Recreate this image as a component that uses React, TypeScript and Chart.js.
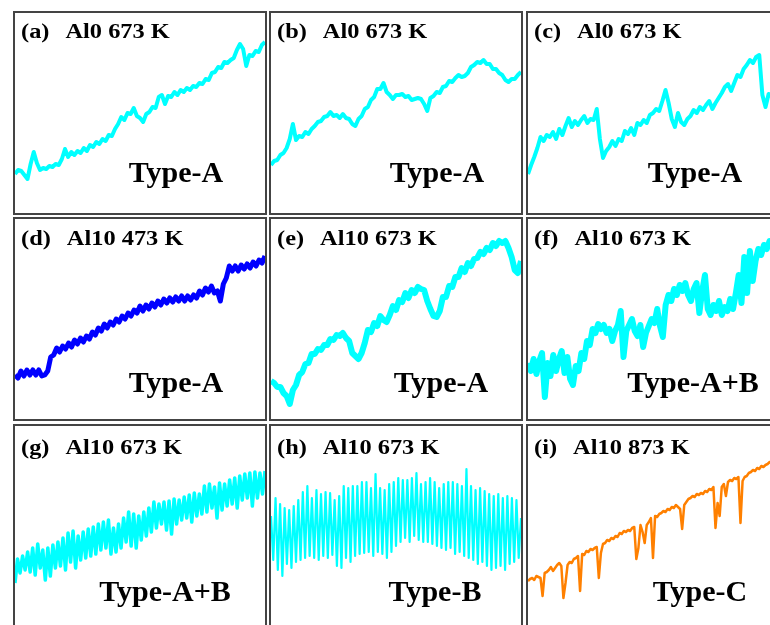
import React, { useEffect, useRef } from "react";
import { Chart, registerables } from "chart.js";

Chart.register(...registerables);

// ---------- text ----------
const panelTags = ["(a)", "(b)", "(c)", "(d)", "(e)", "(f)", "(g)", "(h)", "(i)"];
const panelTitles = [
  "Al0 673 K", "Al0 673 K", "Al0 673 K",
  "Al10 473 K", "Al10 673 K", "Al10 673 K",
  "Al10 673 K", "Al10 673 K", "Al10 873 K",
];
const panelTypes = [
  "Type-A", "Type-A", "Type-A",
  "Type-A", "Type-A", "Type-A+B",
  "Type-A+B", "Type-B", "Type-C",
];

// ---------- series (height above panel bottom, evenly spaced along x) ----------
const seriesA = [41,45,44,40,36,51,63,52,45,47,46,49,48,51,50,56,66,58,63,60,64,62,67,64,70,68,73,71,76,74,80,79,86,91,98,95,102,101,107,99,97,93,101,103,108,107,118,120,111,119,118,123,120,125,123,127,125,129,128,132,131,136,135,142,143,148,147,153,152,155,157,165,171,166,149,160,159,164,163,170,173];
const seriesB = [50,54,55,60,62,67,76,91,75,79,78,83,81,86,89,93,94,98,99,103,99,100,97,101,97,96,91,89,96,99,106,108,115,118,126,126,132,123,120,116,120,120,121,118,119,115,116,117,116,111,104,117,119,123,122,128,129,134,133,137,140,138,139,142,148,150,153,152,155,151,151,146,146,142,140,135,133,136,136,140,143];
const seriesC = [41,50,58,67,78,74,80,78,83,76,86,80,89,97,88,94,90,95,99,92,96,95,106,76,57,64,68,74,69,76,74,84,81,87,80,92,90,95,92,100,102,106,104,114,125,112,96,88,102,93,90,96,99,105,102,108,105,110,114,106,112,117,122,128,131,124,132,140,138,146,150,155,152,158,160,120,108,121,119,124,127];
const seriesD = [46,43,50,45,51,46,51,46,51,45,46,50,64,66,73,69,75,72,78,74,81,77,83,79,85,82,89,86,93,90,97,93,99,96,102,99,105,102,108,105,111,108,115,110,116,112,118,114,120,116,122,118,123,119,124,120,125,120,125,121,126,123,130,126,133,129,135,128,130,120,137,143,155,150,155,150,156,152,157,153,159,155,161,158,165];
const seriesE = [40,38,34,34,28,25,17,31,36,46,49,57,58,67,67,72,71,76,76,82,81,86,85,88,83,80,68,65,62,68,78,91,89,98,95,105,101,99,106,115,111,121,119,128,123,131,128,134,132,131,120,112,105,104,110,124,124,135,134,144,144,153,149,158,155,162,163,169,167,173,171,178,175,180,178,180,173,164,151,148,160];
const seriesF = [58,50,62,47,60,68,24,58,45,66,50,62,70,48,64,42,36,55,50,68,62,80,76,92,88,97,92,96,88,92,80,90,96,110,64,90,96,102,90,85,96,74,88,95,102,98,112,95,84,116,126,120,132,126,136,130,138,126,120,132,138,108,130,146,112,106,116,110,120,106,114,110,122,112,128,146,118,164,128,170,140,160,172,166,176,172,180,178,182,180];
const seriesG = [45,69,55,72,58,76,56,80,53,84,60,78,48,80,52,83,60,86,62,90,58,95,66,97,60,92,68,96,70,99,72,101,74,104,78,106,80,108,74,100,76,104,80,110,86,116,82,114,80,112,88,116,92,120,96,126,100,124,104,126,98,127,94,129,104,128,108,131,110,133,106,135,112,134,114,142,116,144,120,141,110,145,118,144,122,148,124,150,120,152,128,154,130,155,122,156,130,155,134,157];
const seriesH = [112,68,130,58,124,52,120,64,118,60,122,66,128,68,136,70,142,72,130,70,138,68,134,72,136,70,135,73,128,62,132,60,142,70,140,66,142,72,142,74,146,75,146,76,140,72,154,76,140,74,138,70,144,76,146,82,150,86,148,90,148,86,150,92,155,88,144,86,146,86,150,84,146,82,140,80,144,78,146,80,146,74,144,76,142,72,159,70,142,68,138,64,140,66,137,62,134,58,132,60,134,62,130,58,132,64,130,66,128,70,110];
const seriesI = [47,49,50,48,52,51,50,32,55,56,58,61,57,60,63,65,62,30,45,63,66,65,69,70,72,37,74,73,77,76,79,78,80,81,50,75,84,85,88,87,90,89,92,91,95,94,97,96,98,97,100,101,69,80,103,96,85,103,106,110,70,112,111,114,115,117,116,119,118,121,120,123,121,119,99,123,126,129,130,132,131,134,133,135,134,137,136,139,138,141,100,125,112,141,144,132,146,148,147,150,149,151,105,147,151,152,155,156,158,157,160,159,162,161,163,164,166,165,168,167,169];

const allSeries = [seriesA, seriesB, seriesC, seriesD, seriesE, seriesF, seriesG, seriesH, seriesI];

// ---------- styles / layout ----------
const CYAN = "#00ffff";
const BLUE = "#0000ff";
const ORANGE = "#ff8000";
const lineColors = [CYAN, CYAN, CYAN, BLUE, CYAN, CYAN, CYAN, CYAN, ORANGE];
const lineWidths = [4, 4, 4, 5, 6, 6, 3.5, 2.2, 2.5];

const colLeft = [13, 269, 526];
const rowTop = [11, 217, 424];
const PANEL_W = 254;
const PANEL_H = 204;
const BORDER = 2;
const labelBaseline = [25, 26, 28];
const typeBaseline = [169, 173, 175];
const typeCenter = [161, 166, 167, 161, 170, 165, 150, 164, 172];

const textPlugin = {
  id: "panelText",
  afterDraw(chart: any, _args: any, opts: any) {
    const ctx = chart.ctx as CanvasRenderingContext2D;
    ctx.save();
    ctx.fillStyle = "#000";
    ctx.textBaseline = "alphabetic";
    ctx.textAlign = "left";
    ctx.font = 'bold 20px "Liberation Serif", "Times New Roman", serif';
    ctx.save();
    ctx.translate(6, opts.ly);
    ctx.scale(1.22, 1);
    ctx.fillText(opts.tag, 0, 0);
    const w = ctx.measureText(opts.tag).width;
    ctx.fillText(opts.title, w + 16 / 1.22, 0);
    ctx.restore();
    ctx.font = 'bold 30px "Liberation Serif", "Times New Roman", serif';
    ctx.textAlign = "center";
    ctx.fillText(opts.type, opts.tx, opts.ty);
    ctx.restore();
  },
};

function Panel({ idx }: { idx: number }) {
  const ref = useRef<HTMLCanvasElement>(null);
  useEffect(() => {
    const values = allSeries[idx];
    const row = Math.floor(idx / 3);
    const data = values.map((v, i) => ({ x: i, y: v }));
    const chart = new Chart(ref.current!, {
      type: "line",
      data: {
        datasets: [
          {
            data,
            borderColor: lineColors[idx],
            borderWidth: lineWidths[idx],
            borderJoinStyle: "round",
            pointRadius: 0,
            tension: 0,
            fill: false,
          },
        ],
      },
      options: {
        animation: false,
        responsive: true,
        maintainAspectRatio: false,
        layout: { padding: 0 },
        events: [],
        scales: {
          x: { type: "linear", display: false, min: 0, max: values.length - 1 },
          y: { type: "linear", display: false, min: 2, max: 202 },
        },
        plugins: {
          legend: { display: false },
          tooltip: { enabled: false },
          title: { display: false },
          panelText: {
            tag: panelTags[idx],
            title: panelTitles[idx],
            type: panelTypes[idx],
            ly: labelBaseline[row],
            tx: typeCenter[idx],
            ty: typeBaseline[row],
          },
        } as any,
      },
      plugins: [textPlugin],
    });
    return () => chart.destroy();
  }, [idx]);

  const row = Math.floor(idx / 3);
  const col = idx % 3;
  return (
    <div
      style={{
        position: "absolute",
        left: colLeft[col],
        top: rowTop[row],
        width: PANEL_W,
        height: PANEL_H,
        boxSizing: "border-box",
        border: `${BORDER}px solid #444`,
        background: "#fff",
      }}
    >
      <div style={{ position: "relative", width: PANEL_W - 2 * BORDER, height: PANEL_H - 2 * BORDER }}>
        <canvas ref={ref} />
      </div>
    </div>
  );
}

export default function App() {
  return (
    <div
      style={{
        position: "absolute",
        left: 0,
        top: 0,
        width: 770,
        height: 625,
        overflow: "hidden",
        background: "#fff",
      }}
    >
      {panelTags.map((_, i) => (
        <Panel key={i} idx={i} />
      ))}
    </div>
  );
}
